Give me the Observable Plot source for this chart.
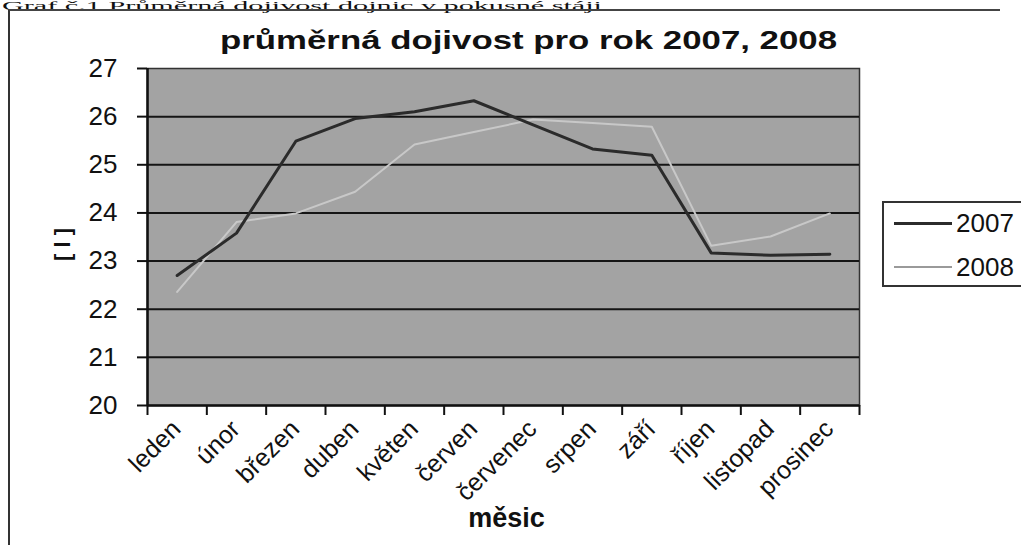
<!DOCTYPE html>
<html>
<head>
<meta charset="utf-8">
<script src="https://cdn.jsdelivr.net/npm/d3@7"></script>
<script src="https://cdn.jsdelivr.net/npm/@observablehq/plot@0.6"></script>
<style>
  body { margin: 0; background: #fff; }
  #wrap { position: relative; width: 1021px; height: 545px; overflow: hidden; background: #fff; }
  #wrap svg { position: absolute; left: 0; top: 0; }
  #caption { position: absolute; left: 2px; top: 0px; font-family: "Liberation Serif", serif; font-size: 12px; line-height: 12px; white-space: nowrap; color: #111; transform-origin: 0 0; }
  #frame { position: absolute; left: 8px; top: 9px; width: 992px; height: 620px; border-top: 2px solid #444; border-left: 2px solid #333; box-sizing: border-box; }
  #title { position: absolute; left: 220px; top: 28px; font-family: "Liberation Sans", Arial, sans-serif; font-weight: bold; font-size: 25px; line-height: 25px; white-space: nowrap; color: #111; transform-origin: 0 0; }
  #legend { position: absolute; left: 882px; top: 201px; width: 200px; height: 86px; border: 2px solid #333; box-sizing: border-box; background: #fff; }
  .lg-line { position: absolute; left: 10px; width: 58px; }
  .lg-text { position: absolute; left: 72px; font-family: "Liberation Sans", Arial, sans-serif; font-size: 26px; line-height: 26px; color: #111; }
</style>
</head>
<body>
<div id="wrap">
  <div id="caption"></div>
  <div id="frame"></div>
  <div id="chart"></div>
  <div id="title"></div>
  <div id="legend"></div>
</div>
<script>
// ---- data ----
const months = ["leden", "únor", "březen", "duben", "květen", "červen", "červenec", "srpen", "září", "říjen", "listopad", "prosinec"];
const values2007 = [22.70, 23.58, 25.49, 25.96, 26.10, 26.33, 25.83, 25.33, 25.20, 23.17, 23.12, 23.14];
const values2008 = [22.36, 23.81, 23.99, 24.44, 25.42, 25.68, 25.94, 25.87, 25.79, 23.32, 23.51, 23.99];
const seriesNames = ["2007", "2008"];
const seriesColors = ["#2b2b2b", "#c8c8c8"];
const seriesWidths = [3, 2];
const yTicks = [20, 21, 22, 23, 24, 25, 26, 27];
const captionText = "Graf č.1 Průměrná dojivost dojnic v pokusné stáji";
const titleText = "průměrná dojivost pro rok 2007, 2008";
const xLabel = "měsic";
const yLabel = "[ l ]";

// ---- build rows ----
const rows2007 = months.map((m, i) => ({i, month: m, value: values2007[i]}));
const rows2008 = months.map((m, i) => ({i, month: m, value: values2008[i]}));
const xDomain = [-0.5, months.length - 0.5];
const boundaries = d3.range(months.length + 1).map(i => i - 0.5);

const chart = Plot.plot({
  width: 1021,
  height: 545,
  marginLeft: 147,
  marginRight: 162,
  marginTop: 68,
  marginBottom: 140,
  style: {fontFamily: "Liberation Sans, Arial, sans-serif", background: "transparent", color: "#111", overflow: "visible"},
  x: {type: "linear", domain: xDomain},
  y: {domain: [yTicks[0], yTicks[yTicks.length - 1]]},
  marks: [
    Plot.frame({fill: "#a3a3a3", stroke: "#333", strokeWidth: 1.5}),
    Plot.ruleY(yTicks.slice(1, -1), {stroke: "#151515", strokeWidth: 2}),
    Plot.axisY({ticks: yTicks, tickSize: 10, tickPadding: 20, fontSize: 26, strokeWidth: 2, label: null, tickFormat: d => String(d)}),
    Plot.axisX({ticks: boundaries, tickSize: 10, tickFormat: () => "", label: null, strokeWidth: 2}),
    Plot.ruleY([yTicks[0]], {stroke: "#111", strokeWidth: 2.5}),
    Plot.ruleX([xDomain[0]], {stroke: "#111", strokeWidth: 2.5}),
    Plot.line(rows2008, {x: "i", y: "value", stroke: seriesColors[1], strokeWidth: seriesWidths[1]}),
    Plot.line(rows2007, {x: "i", y: "value", stroke: seriesColors[0], strokeWidth: seriesWidths[0]}),
    Plot.text(months, {x: (d, i) => i, frameAnchor: "bottom", rotate: -45, textAnchor: "end", dx: 5, dy: 25, fontSize: 25, fill: "#111"}),
    Plot.text([xLabel], {frameAnchor: "bottom", dx: 3, dy: 121, fontSize: 27, fontWeight: "bold", fill: "#111"}),
    Plot.text([yLabel], {frameAnchor: "left", rotate: -90, dx: -85, dy: 24, fontSize: 22, fontWeight: "bold", fill: "#111"})
  ]
});
document.getElementById("chart").appendChild(chart);

// ---- caption (only a thin strip is visible in the reference) ----
const caption = document.getElementById("caption");
caption.textContent = captionText;
const cw = caption.getBoundingClientRect().width;
caption.style.transform = `scaleX(${600 / cw})`;

// ---- title (stretched to the reference width) ----
const title = document.getElementById("title");
title.textContent = titleText;
const tw = title.getBoundingClientRect().width;
title.style.transform = `scaleX(${617 / tw})`;

// ---- legend ----
const legend = document.getElementById("legend");
const lineTops = [20, 64];
seriesNames.forEach((name, k) => {
  const ln = document.createElement("div");
  ln.className = "lg-line";
  ln.style.top = (lineTops[k] - seriesWidths[k] / 2) + "px";
  ln.style.height = seriesWidths[k] + "px";
  ln.style.background = k === 0 ? seriesColors[0] : "#9a9a9a";
  legend.appendChild(ln);
  const tx = document.createElement("div");
  tx.className = "lg-text";
  tx.textContent = name;
  tx.style.top = (lineTops[k] - 13) + "px";
  legend.appendChild(tx);
});
</script>
</body>
</html>
